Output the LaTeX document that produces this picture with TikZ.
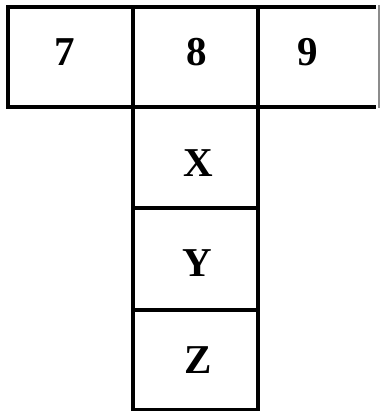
\documentclass[tikz,border=0pt]{standalone}
\usepackage{fontspec}
\setmainfont{Liberation Serif}
\tikzset{
  cell/.style={draw=black, line width=3.4pt},
  lbl/.style={font=\fontsize{41}{44}\selectfont\bfseries, inner sep=0pt}
}
\begin{document}
\begin{tikzpicture}[x=1pt,y=-1pt]
\useasboundingbox (0,0) rectangle (382,411);
% top row
\draw[cell] (6.3,7) -- (376,7);
\draw[cell] (6.3,107) -- (376,107);
\draw[cell] (8,5.3) -- (8,108.7);
\draw[cell] (133,5.3) -- (133,411);
\draw[cell] (258,5.3) -- (258,411);
\draw[draw=black!45, line width=1.2pt] (379,5.5) -- (379,108.5);
% column
\draw[cell] (133,208) -- (258,208);
\draw[cell] (133,310) -- (258,310);
\draw[cell] (131.3,409.5) -- (259.7,409.5);
% labels
\node[lbl] (n7) at (65,52) {7};
\node[lbl] (n8) at (197,52) {8};
\node[lbl] (n9) at (308,52) {9};
\node[lbl] (nx) at (198,163) {X};
\node[lbl] (ny) at (197,263) {Y};
\node[lbl] (nz) at (198,360) {Z};
\end{tikzpicture}
\end{document}
